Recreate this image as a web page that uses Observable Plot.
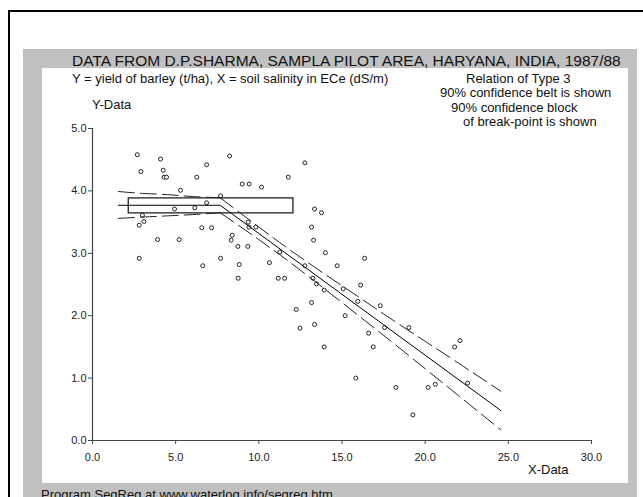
<!DOCTYPE html>
<html>
<head>
<meta charset="utf-8">
<script src="https://cdn.jsdelivr.net/npm/d3@7"></script>
<script src="https://cdn.jsdelivr.net/npm/@observablehq/plot@0.6"></script>
<style>
  html, body { margin: 0; padding: 0; background: #fff; }
  body { width: 643px; height: 497px; overflow: hidden; position: relative; font-family: "Liberation Sans", Arial, sans-serif; color: #111; }
  .abs { position: absolute; white-space: nowrap; line-height: 1; }
</style>
</head>
<body>
<div class="abs" style="left:8px; top:10px; width:700px; height:600px; border-left:2px solid #000; border-top:2px solid #000;"></div>
<div class="abs" style="left:23px; top:49px; width:614px; height:500px; background:#c0c0c0;"></div>
<div class="abs" style="left:42px; top:68px; width:586px; height:415px; background:#fff;"></div>
<div id="chart" class="abs" style="left:42px; top:68px;"></div>
<div id="texts"></div>
<script>
// ---- data ----
const titleText = "DATA FROM D.P.SHARMA, SAMPLA PILOT AREA, HARYANA, INDIA, 1987/88";
const subtitleText = "Y = yield of barley (t/ha), X = soil salinity in ECe (dS/m)";
const noteLines = ["Relation of Type 3", "90% confidence belt is shown", "90% confidence block", "of break-point is shown"];
const yLabel = "Y-Data";
const xLabel = "X-Data";
const footerText = "Program SegReg at www.waterlog.info/segreg.htm";

const xTicks = [0, 5, 10, 15, 20, 25, 30];
const yTicks = [0, 1, 2, 3, 4, 5];

// observations: soil salinity (x) and barley yield (y)
const obsX = [2.69, 4.09, 6.86, 2.91, 4.25, 4.30, 4.45, 6.27, 5.29, 7.70, 6.86, 4.93, 6.15, 3.00, 3.09, 2.81, 6.57, 7.16, 3.91, 5.21,
              2.81, 7.70, 6.63, 8.24, 9.00, 9.42, 10.16, 11.77, 12.77, 8.40, 8.34, 9.82, 9.40, 9.36, 8.74, 9.34, 11.26, 8.82, 10.64, 8.76,
              11.17, 11.55, 12.77, 13.35, 13.77, 13.17, 13.29, 14.00, 14.71, 13.25, 13.47, 13.93, 16.36, 16.12, 15.07, 15.95, 17.30, 13.17, 12.25, 15.19,
              13.35, 12.47, 19.02, 17.56, 16.60, 16.88, 13.93, 22.09, 21.77, 22.55, 20.61, 20.18, 18.24, 15.83, 19.26];
const obsY = [4.58, 4.51, 4.42, 4.31, 4.33, 4.22, 4.22, 4.22, 4.01, 3.92, 3.81, 3.71, 3.73, 3.61, 3.51, 3.45, 3.41, 3.41, 3.22, 3.22,
              2.92, 2.92, 2.80, 4.56, 4.11, 4.11, 4.06, 4.22, 4.45, 3.29, 3.21, 3.42, 3.42, 3.50, 3.11, 3.11, 3.02, 2.82, 2.85, 2.60,
              2.60, 2.60, 2.80, 3.71, 3.65, 3.42, 3.21, 3.01, 2.80, 2.60, 2.51, 2.41, 2.92, 2.49, 2.43, 2.23, 2.16, 2.21, 2.10, 2.00,
              1.86, 1.80, 1.81, 1.81, 1.72, 1.50, 1.50, 1.60, 1.50, 0.92, 0.90, 0.85, 0.85, 1.00, 0.41];

// segmented regression line (break-point at x = 7.68)
const fitX = [1.56, 7.68, 24.55];
const fitY = [3.77, 3.77, 0.48];

// 90% confidence belt, horizontal segment
const beltHX = [1.56, 3.0, 4.5, 6.0, 7.68];
const beltHUpper = [3.99, 3.96, 3.94, 3.91, 3.89];
const beltHLower = [3.56, 3.58, 3.60, 3.62, 3.65];

// 90% confidence belt, sloping segment
const beltSX = [7.68, 10, 12, 14, 16, 18, 20, 22, 24.55];
const beltSUpper = [3.89, 3.42, 3.03, 2.66, 2.30, 1.94, 1.59, 1.24, 0.79];
const beltSLower = [3.65, 3.22, 2.83, 2.42, 2.00, 1.58, 1.15, 0.72, 0.17];

// 90% confidence block of the break-point
const blockX = [2.18, 12.08];
const blockY = [3.64, 3.88];

// ---- build ----
const points = obsX.map((x, i) => ({x, y: obsY[i]}));
const fit = fitX.map((x, i) => ({x, y: fitY[i]}));
const belts = [
  beltHX.map((x, i) => ({x, y: beltHUpper[i]})),
  beltHX.map((x, i) => ({x, y: beltHLower[i]})),
  beltSX.map((x, i) => ({x, y: beltSUpper[i]})),
  beltSX.map((x, i) => ({x, y: beltSLower[i]}))
];
const block = [{x1: blockX[0], x2: blockX[1], y1: blockY[0], y2: blockY[1]}];
const fmt = d => d.toFixed(1);

const chart = Plot.plot({
  width: 586,
  height: 415,
  marginLeft: 50,
  marginRight: 37,
  marginTop: 60,
  marginBottom: 43,
  style: {fontFamily: "'Liberation Sans', Arial, sans-serif", fontSize: "11px", color: "#222", background: "transparent"},
  x: {domain: [0, 30]},
  y: {domain: [0, 5]},
  marks: [
    Plot.ruleX([0], {y1: 0, y2: 5, stroke: "#444", strokeWidth: 1.2}),
    Plot.ruleY([0], {x1: 0, x2: 30, stroke: "#444", strokeWidth: 1.2}),
    Plot.axisX({ticks: xTicks, tickFormat: fmt, tickSize: 4, tickPadding: 9, label: null, stroke: "#444"}),
    Plot.axisY({ticks: yTicks, tickFormat: fmt, tickSize: 4, tickPadding: 2, label: null, stroke: "#444"}),
    Plot.dot(points, {x: "x", y: "y", r: 2, stroke: "#222", fill: "white", strokeWidth: 1}),
    ...belts.map(b => Plot.line(b, {x: "x", y: "y", stroke: "#222", strokeWidth: 1, strokeDasharray: "16,6", curve: "natural"})),
    Plot.line(fit, {x: "x", y: "y", stroke: "#000", strokeWidth: 1}),
    Plot.rect(block, {x1: "x1", x2: "x2", y1: "y1", y2: "y2", fill: "none", stroke: "#222", strokeWidth: 1.3})
  ]
});
document.getElementById("chart").appendChild(chart);

// ---- texts ----
const texts = [
  {t: titleText, left: 72, cy: 61, fs: 15.5},
  {t: subtitleText, left: 72, cy: 78, fs: 13},
  {t: noteLines[0], left: 466, cy: 78, fs: 13},
  {t: noteLines[1], left: 440, cy: 92.5, fs: 13},
  {t: noteLines[2], left: 451, cy: 107, fs: 13},
  {t: noteLines[3], left: 463, cy: 121, fs: 13},
  {t: yLabel, left: 92, cy: 104, fs: 13},
  {t: xLabel, left: 528, cy: 469, fs: 13},
  {t: footerText, left: 41, cy: 494, fs: 13}
];
const host = document.getElementById("texts");
for (const d of texts) {
  const el = document.createElement("div");
  el.className = "abs";
  el.textContent = d.t;
  el.style.left = d.left + "px";
  el.style.top = (d.cy - 0.49 * d.fs) + "px";
  el.style.fontSize = d.fs + "px";
  host.appendChild(el);
}
</script>
</body>
</html>
